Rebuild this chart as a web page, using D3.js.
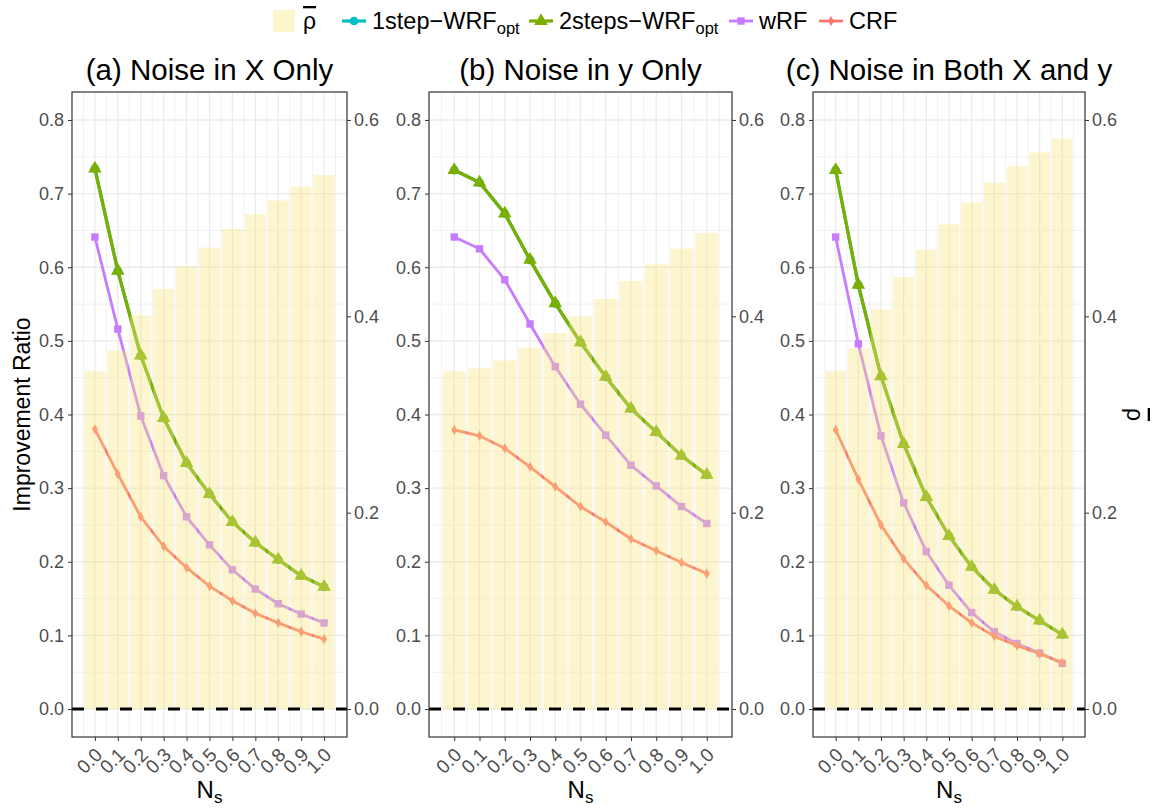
<!DOCTYPE html>
<html lang="en">
<head>
<meta charset="utf-8">
<title>Improvement Ratio</title>
<script src="https://cdnjs.cloudflare.com/ajax/libs/d3/7.8.5/d3.min.js"></script>
<style>
    body { margin: 0; background: white; }
    svg { font-family: "Liberation Sans", Arial, Helvetica, sans-serif; }
    .tick line { stroke: #333333; }
    .tick text { fill: #4d4d4d; font-size: 18px; }
    .xaxis .tick text { font-size: 19px; }
</style>
</head>
<body>
<div id="chart"></div>
<script>
// categories and values
const nsValues = [0.0, 0.1, 0.2, 0.3, 0.4, 0.5, 0.6, 0.7, 0.8, 0.9, 1.0];
const panelTitles = ["(a) Noise in X Only", "(b) Noise in y Only", "(c) Noise in Both X and y"];
const leftTicks = [0.0, 0.1, 0.2, 0.3, 0.4, 0.5, 0.6, 0.7, 0.8];
const rightTicks = [0.0, 0.2, 0.4, 0.6];

const rhoA = [0.344, 0.365, 0.401, 0.428, 0.451, 0.470, 0.489, 0.504, 0.518, 0.532, 0.544];
const rhoB = [0.344, 0.347, 0.355, 0.368, 0.383, 0.400, 0.418, 0.436, 0.453, 0.469, 0.485];
const rhoC = [0.344, 0.367, 0.407, 0.440, 0.468, 0.494, 0.516, 0.536, 0.553, 0.567, 0.581];

const oneStepA = [0.734, 0.595, 0.480, 0.395, 0.334, 0.292, 0.254, 0.226, 0.203, 0.181, 0.166];
const twoStepsA = [0.734, 0.595, 0.480, 0.395, 0.334, 0.292, 0.254, 0.226, 0.203, 0.181, 0.166];
const wrfA = [0.641, 0.516, 0.398, 0.317, 0.261, 0.223, 0.189, 0.163, 0.143, 0.129, 0.117];
const crfA = [0.380, 0.319, 0.261, 0.221, 0.192, 0.167, 0.147, 0.130, 0.117, 0.105, 0.095];

const oneStepB = [0.732, 0.715, 0.673, 0.610, 0.551, 0.498, 0.451, 0.408, 0.376, 0.344, 0.318];
const twoStepsB = [0.732, 0.715, 0.673, 0.610, 0.551, 0.498, 0.451, 0.408, 0.376, 0.344, 0.318];
const wrfB = [0.641, 0.625, 0.583, 0.523, 0.465, 0.414, 0.372, 0.331, 0.303, 0.275, 0.252];
const crfB = [0.379, 0.371, 0.354, 0.329, 0.302, 0.275, 0.254, 0.231, 0.215, 0.199, 0.184];

const oneStepC = [0.732, 0.576, 0.452, 0.360, 0.288, 0.235, 0.193, 0.162, 0.139, 0.120, 0.101];
const twoStepsC = [0.732, 0.576, 0.452, 0.360, 0.288, 0.235, 0.193, 0.162, 0.139, 0.120, 0.101];
const wrfC = [0.641, 0.496, 0.371, 0.280, 0.214, 0.168, 0.131, 0.105, 0.089, 0.076, 0.062];
const crfC = [0.379, 0.312, 0.250, 0.204, 0.168, 0.140, 0.117, 0.099, 0.086, 0.075, 0.063];

const seriesNames = ["1step", "2steps", "wRF", "CRF"];
const seriesColors = ["#00BFC4", "#7CAE00", "#C77CFF", "#F8766D"];

const panelData = [
    { title: panelTitles[0], rho: rhoA, series: [oneStepA, twoStepsA, wrfA, crfA] },
    { title: panelTitles[1], rho: rhoB, series: [oneStepB, twoStepsB, wrfB, crfB] },
    { title: panelTitles[2], rho: rhoC, series: [oneStepC, twoStepsC, wrfC, crfC] }
];

const width = 1153;
const height = 810;
const plotTop = 92, plotBottom = 737;
const panelBoxes = [[72, 347], [429, 732], [813, 1085]];
const rhoFactor = 0.75;   // secondary axis: rho = ratio * 0.75
const barWidth = 0.09;

const svg = d3.select("#chart").append("svg")
    .attr("width", width)
    .attr("height", height);

const y = d3.scaleLinear().domain([-0.038, 0.838]).range([plotBottom, plotTop]);
const yRight = d3.scaleLinear().domain([-0.038 * rhoFactor, 0.838 * rhoFactor]).range([plotBottom, plotTop]);

const symbols = [
    d3.symbol().type(d3.symbolCircle).size(60),
    d3.symbol().type(d3.symbolTriangle).size(80),
    d3.symbol().type(d3.symbolSquare).size(55),
    d3.symbol().type(d3.symbolDiamond).size(30)
];
const lineWidths = [3.2, 3.2, 2.8, 2.8];

panelData.forEach((p, pi) => {
    const [x0, x1] = panelBoxes[pi];
    const x = d3.scaleLinear().domain([-0.1, 1.1]).range([x0, x1]);
    const g = svg.append("g");

    // grid
    const minorY = d3.range(-0.05, 0.86, 0.1).filter(v => v > -0.038 && v < 0.838);
    g.selectAll("line.minory").data(minorY).enter().append("line")
        .attr("x1", x0).attr("x2", x1)
        .attr("y1", d => y(d)).attr("y2", d => y(d))
        .attr("stroke", "#ebebeb").attr("stroke-width", 0.7);
    const minorX = d3.range(-0.05, 1.1, 0.1);
    g.selectAll("line.minorx").data(minorX).enter().append("line")
        .attr("y1", plotTop).attr("y2", plotBottom)
        .attr("x1", d => x(d)).attr("x2", d => x(d))
        .attr("stroke", "#ebebeb").attr("stroke-width", 0.7);
    g.selectAll("line.majory").data(leftTicks).enter().append("line")
        .attr("x1", x0).attr("x2", x1)
        .attr("y1", d => y(d)).attr("y2", d => y(d))
        .attr("stroke", "#ebebeb").attr("stroke-width", 1.3);
    g.selectAll("line.majorx").data(nsValues).enter().append("line")
        .attr("y1", plotTop).attr("y2", plotBottom)
        .attr("x1", d => x(d)).attr("x2", d => x(d))
        .attr("stroke", "#ebebeb").attr("stroke-width", 1.3);

    // lines and points
    p.series.forEach((vals, si) => {
        const pts = nsValues.map((n, i) => [n, vals[i]]);
        g.append("path")
            .datum(pts)
            .attr("fill", "none")
            .attr("stroke", seriesColors[si])
            .attr("stroke-width", lineWidths[si])
            .attr("d", d3.line().x(d => x(d[0])).y(d => y(d[1])));
        g.selectAll(null).data(pts).enter().append("path")
            .attr("transform", d => `translate(${x(d[0])},${y(d[1])})`)
            .attr("d", symbols[si])
            .attr("fill", seriesColors[si]);
    });

    // rho bars on top, semi transparent
    g.selectAll("rect.bar").data(nsValues).enter().append("rect")
        .attr("x", d => x(d - barWidth / 2))
        .attr("width", x(barWidth) - x(0))
        .attr("y", (d, i) => yRight(p.rho[i]))
        .attr("height", (d, i) => yRight(0) - yRight(p.rho[i]))
        .attr("fill", "#f7e47f")
        .attr("fill-opacity", 0.38);

    // zero reference
    g.append("line")
        .attr("x1", x0).attr("x2", x1)
        .attr("y1", y(0)).attr("y2", y(0))
        .attr("stroke", "black").attr("stroke-width", 3)
        .attr("stroke-dasharray", "12,12");

    // border
    g.append("rect")
        .attr("x", x0).attr("y", plotTop)
        .attr("width", x1 - x0).attr("height", plotBottom - plotTop)
        .attr("fill", "none").attr("stroke", "#333333").attr("stroke-width", 1.2);

    // axes
    const left = g.append("g").attr("transform", `translate(${x0},0)`)
        .call(d3.axisLeft(y).tickValues(leftTicks).tickFormat(d3.format(".1f")).tickSize(4).tickPadding(4));
    left.select(".domain").remove();

    const right = g.append("g").attr("transform", `translate(${x1},0)`)
        .call(d3.axisRight(yRight).tickValues(rightTicks).tickFormat(d3.format(".1f")).tickSize(4).tickPadding(3));
    right.select(".domain").remove();

    const bot = g.append("g").attr("class", "xaxis").attr("transform", `translate(0,${plotBottom})`)
        .call(d3.axisBottom(x).tickValues(nsValues).tickFormat(d3.format(".1f")).tickSize(4));
    bot.select(".domain").remove();
    bot.selectAll("text")
        .attr("x", 0).attr("y", 0).attr("dy", null)
        .attr("text-anchor", "end")
        .attr("transform", "translate(8,19) rotate(-45)");

    // panel title
    g.append("text")
        .attr("x", (x0 + x1) / 2).attr("y", 80)
        .attr("text-anchor", "middle")
        .attr("font-size", 29.5)
        .attr("fill", "black")
        .text(p.title);

    // x axis title N_s
    const xt = g.append("text")
        .attr("x", (x0 + x1) / 2).attr("y", 798)
        .attr("text-anchor", "middle")
        .attr("font-size", 24);
    xt.append("tspan").text("N");
    xt.append("tspan").attr("font-size", 17).attr("dy", 5).text("s");
});

// y axis titles
svg.append("text")
    .attr("transform", `translate(30,${(plotTop + plotBottom) / 2}) rotate(-90)`)
    .attr("text-anchor", "middle")
    .attr("font-size", 23)
    .text("Improvement Ratio");

svg.append("text")
    .attr("transform", `translate(1127,${(plotTop + plotBottom) / 2}) rotate(90)`)
    .attr("text-anchor", "middle")
    .attr("font-size", 23)
    .style("text-decoration", "overline")
    .text("ρ");

// legend
const legend = svg.append("g");
const legendKeyX = [273, 342, 529, 729, 819];
const legendY = 21;
legend.append("rect")
    .attr("x", legendKeyX[0]).attr("y", legendY - 11)
    .attr("width", 22).attr("height", 22)
    .attr("fill", "#f7e47f").attr("fill-opacity", 0.38);
legend.append("text")
    .attr("x", legendKeyX[0] + 30).attr("y", legendY + 8)
    .attr("font-size", 23)
    .style("text-decoration", "overline")
    .text("ρ");

seriesNames.forEach((name, si) => {
    const kx = legendKeyX[si + 1];
    legend.append("line")
        .attr("x1", kx).attr("x2", kx + 24)
        .attr("y1", legendY).attr("y2", legendY)
        .attr("stroke", seriesColors[si]).attr("stroke-width", lineWidths[si]);
    legend.append("path")
        .attr("transform", `translate(${kx + 12},${legendY})`)
        .attr("d", symbols[si])
        .attr("fill", seriesColors[si]);
    const t = legend.append("text")
        .attr("x", kx + 30).attr("y", legendY + 8)
        .attr("font-size", 23.5);
    if (si < 2) {
        t.append("tspan").text(name + "\u2212WRF");
        t.append("tspan").attr("font-size", 16.5).attr("dy", 5).text("opt");
    } else {
        t.text(name);
    }
});
</script>
</body>
</html>
